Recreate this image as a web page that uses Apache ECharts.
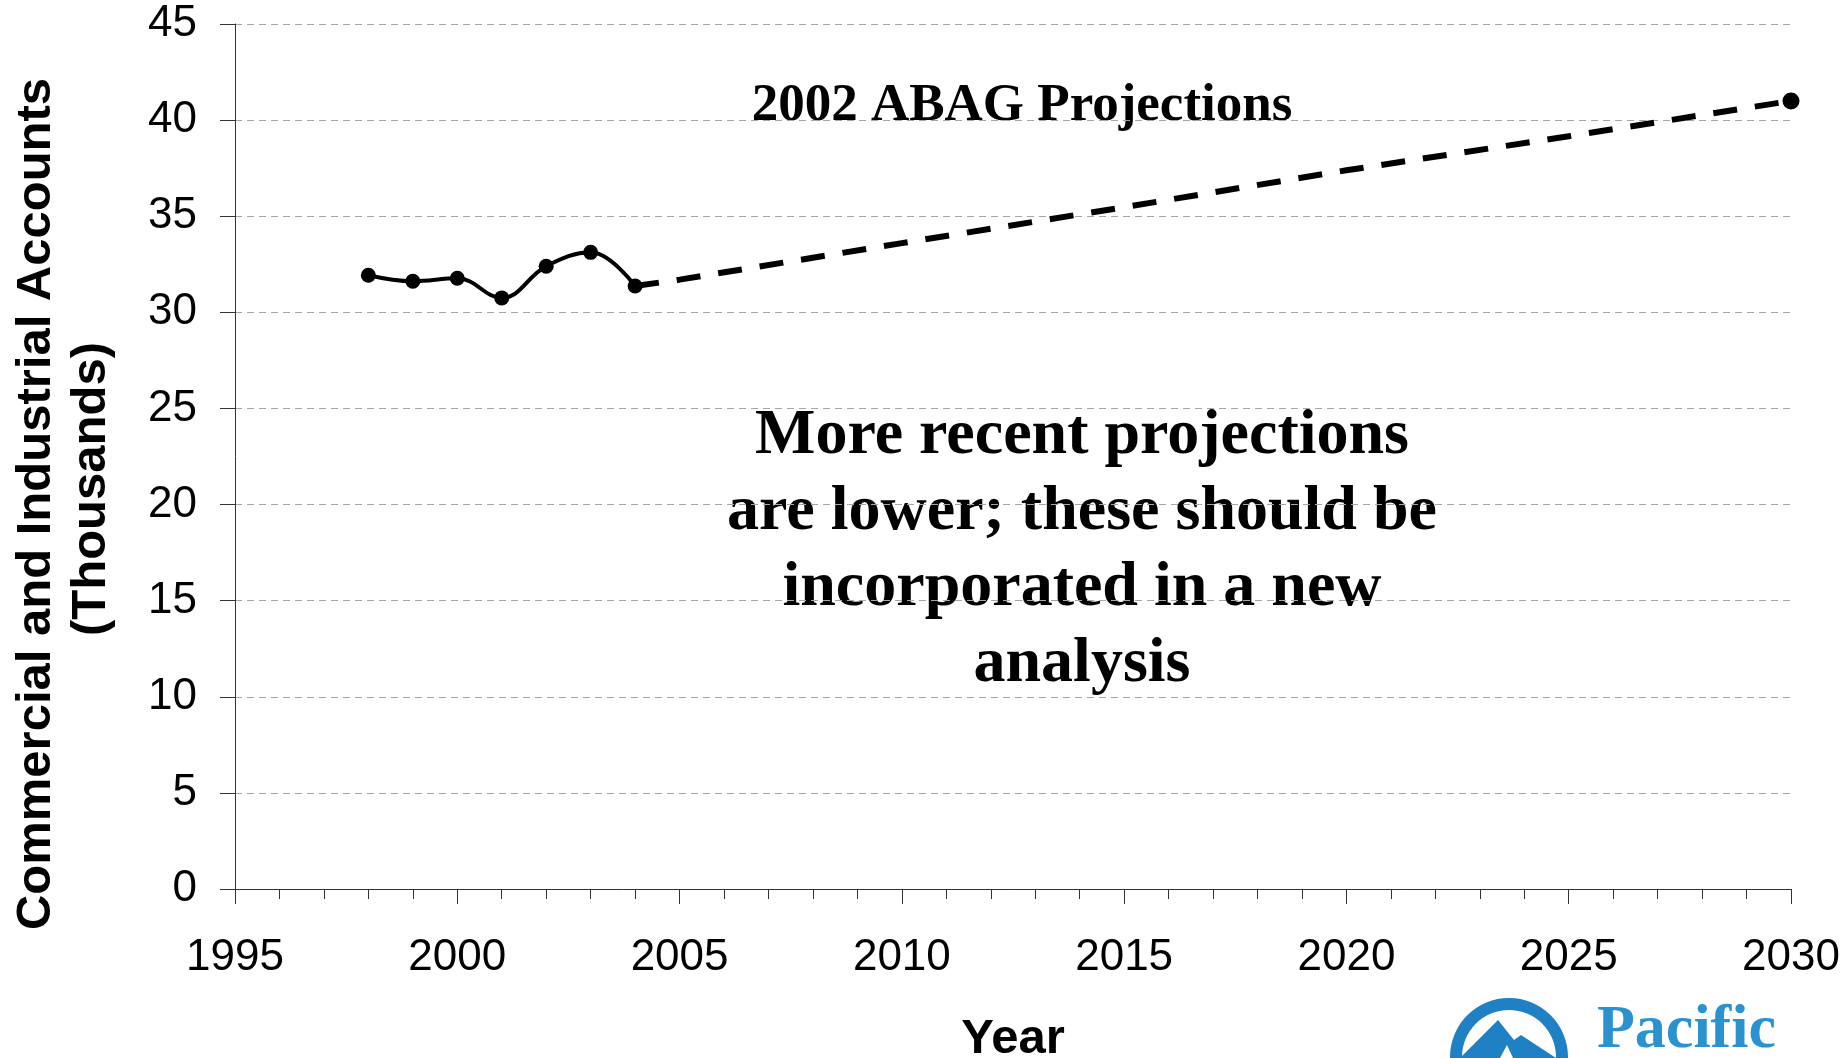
<!DOCTYPE html>
<html><head><meta charset="utf-8">
<script src="https://cdn.jsdelivr.net/npm/echarts@6/dist/echarts.min.js"></script>
<style>html,body{margin:0;padding:0;background:#fff}#c{width:1848px;height:1058px}</style>
</head><body><div id="c"></div>
<script>
// Historical accounts (thousands)
const actualYears = [1998, 1999, 2000, 2001, 2002, 2003, 2004];
const actualValues = [31.93, 31.62, 31.77, 30.75, 32.40, 33.12, 31.37];
// 2002 ABAG projections (thousands)
const projYears = [2004, 2005, 2010, 2015, 2020, 2025, 2030];
const projValues = [31.37, 31.7, 33.6, 35.47, 37.39, 39.16, 41.0];
// Axis tick settings
const xTickMin = 1995, xTickMax = 2030, xTickStep = 5;
const yTickMin = 0, yTickMax = 45, yTickStep = 5;
// Texts
const yTitleLine1 = 'Commercial and Industrial Accounts';
const yTitleLine2 = '(Thousands)';
const xTitle = 'Year';
const projLabel = '2002 ABAG Projections';
const noteLines = ['More recent projections', 'are lower; these should be', 'incorporated in a new', 'analysis'];
const logoText = 'Pacific';

const chart = echarts.init(document.getElementById('c'), null, {renderer: 'canvas'});
const sans = 'Liberation Sans, Arial, sans-serif';
const serif = 'Liberation Serif, Times New Roman, serif';
const blue = '#1f80c4';

const option = {
  backgroundColor: '#fff',
  animation: false,
  grid: {left: 235, right: 57, top: 24, bottom: 169, containLabel: false, outerBoundsMode: 'none'},
  xAxis: {
    type: 'value', min: xTickMin, max: xTickMax, interval: xTickStep,
    name: xTitle, nameLocation: 'middle', nameGap: 126,
    nameTextStyle: {fontFamily: sans, fontWeight: 'bold', fontSize: 49, color: '#000'},
    axisLine: {show: true, onZero: false, lineStyle: {color: '#333', width: 1}},
    axisTick: {show: true, inside: false, length: 15, lineStyle: {color: '#333', width: 1}},
    minorTick: {show: true, splitNumber: 5, length: 10, lineStyle: {color: '#333', width: 1}},
    axisLabel: {fontFamily: sans, fontSize: 44, color: '#000', margin: 47, formatter: v => String(v)},
    splitLine: {show: false}
  },
  yAxis: {
    type: 'value', min: yTickMin, max: yTickMax, interval: yTickStep,
    axisLine: {show: true, onZero: false, lineStyle: {color: '#333', width: 1}},
    axisTick: {show: true, inside: false, length: 15, lineStyle: {color: '#333', width: 1}},
    axisLabel: {fontFamily: sans, fontSize: 44, color: '#000', margin: 38, formatter: v => String(v)},
    splitLine: {show: true, lineStyle: {color: '#a6a6a6', width: 1, type: [7, 5]}}
  },
  series: [
    {
      name: 'ABAG Projections', type: 'line',
      data: projYears.map((y, i) => [y, projValues[i]]),
      smooth: false,
      symbol: 'circle',
      showSymbol: true,
      symbolSize: (v, p) => p.dataIndex === projYears.length - 1 ? 17 : 0,
      itemStyle: {color: '#000'},
      lineStyle: {color: '#000', width: 6, type: [24, 18], cap: 'butt'},
      z: 2
    },
    {
      name: 'Actual', type: 'line',
      data: actualYears.map((y, i) => [y, actualValues[i]]),
      smooth: 0.4,
      symbol: 'circle', symbolSize: 15,
      itemStyle: {color: '#000'},
      lineStyle: {color: '#000', width: 4},
      z: 3
    }
  ],
  graphic: [
    {type: 'text', x: 36, y: 504, rotation: Math.PI / 2,
      style: {text: yTitleLine1, font: 'bold 49px ' + sans, fill: '#000', align: 'center', verticalAlign: 'middle'}},
    {type: 'text', x: 91, y: 489, rotation: Math.PI / 2,
      style: {text: yTitleLine2, font: 'bold 49px ' + sans, fill: '#000', align: 'center', verticalAlign: 'middle'}},
    {type: 'text', x: 1022, y: 106,
      style: {text: projLabel, font: 'bold 53px ' + serif, fill: '#000', align: 'center', verticalAlign: 'middle'}},
    {type: 'text', x: 1082, y: 550,
      style: {text: noteLines.join('\n'), font: 'bold 64px ' + serif, lineHeight: 76, fill: '#000', align: 'center', verticalAlign: 'middle'}},
    {type: 'ring', shape: {cx: 1509, cy: 1057, r: 59, r0: 47}, style: {fill: blue}},
    {type: 'polygon', shape: {points: [[1460, 1058], [1498, 1020], [1514, 1040], [1521, 1035], [1556, 1058]]}, style: {fill: blue}},
    {type: 'polygon', shape: {points: [[1500, 1058], [1507, 1045], [1513, 1058]]}, style: {fill: '#fff'}},
    {type: 'text', x: 1597, y: 1031,
      style: {text: logoText, font: 'bold 62px ' + serif, fill: '#2a93cf', align: 'left', verticalAlign: 'middle'}}
  ]
};
chart.setOption(option);
</script>
</body></html>
